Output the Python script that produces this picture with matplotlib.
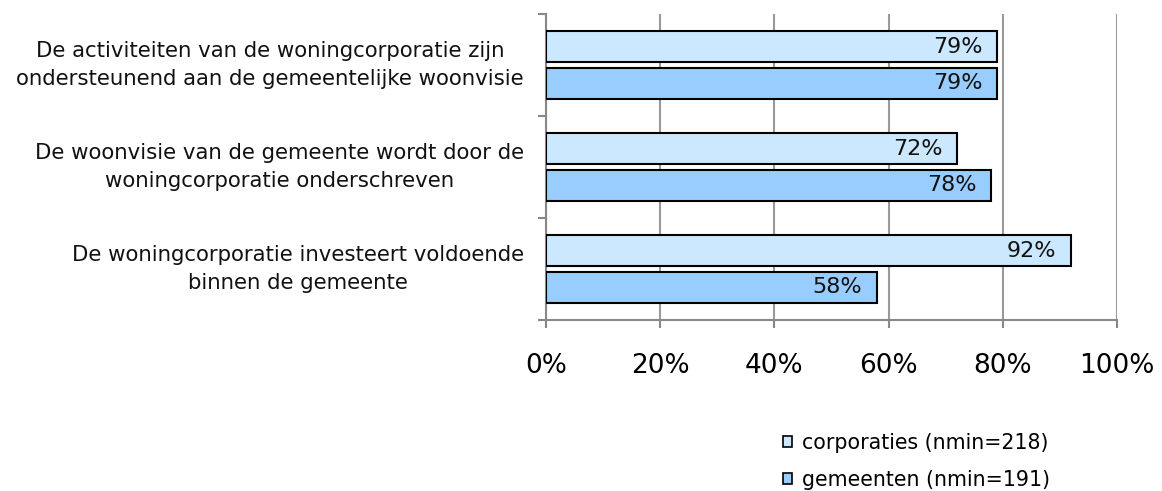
import matplotlib
matplotlib.use("Agg")
import matplotlib.pyplot as plt
import numpy as np

categories = [
    "De activiteiten van de woningcorporatie zijn\nondersteunend aan de gemeentelijke woonvisie",
    "De woonvisie van de gemeente wordt door de\nwoningcorporatie onderschreven",
    "De woningcorporatie investeert voldoende\nbinnen de gemeente",
]
corporaties = [79, 72, 92]
gemeenten = [79, 78, 58]
series_labels = ["corporaties (nmin=218)", "gemeenten (nmin=191)"]
xticks = [0, 20, 40, 60, 80, 100]

fig = plt.figure(figsize=(11.62, 4.91), dpi=100)
ax = fig.add_axes([546/1162, 1-320/491, (1117-546)/1162, (320-14)/491])

y = np.arange(len(categories))
h = 0.31
off = 0.18
c1, c2 = "#CCE8FF", "#99CCFF"
b1 = ax.barh(y - off, corporaties, height=h, color=c1, edgecolor="black", linewidth=1.5, zorder=3, label=series_labels[0])
b2 = ax.barh(y + off, gemeenten, height=h, color=c2, edgecolor="black", linewidth=1.5, zorder=3, label=series_labels[1])

for bars, vals in ((b1, corporaties), (b2, gemeenten)):
    for bar, v in zip(bars, vals):
        ax.text(v - 2.6, bar.get_y() + bar.get_height()/2, f"{v}%", ha="right", va="center",
                fontsize=16, color="#111111", zorder=4)

ax.set_xlim(0, 100)
ax.set_ylim(len(categories) - 0.5, -0.5)
ax.set_xticks(xticks)
ax.set_xticklabels([f"{t}%" for t in xticks], fontsize=19)
ax.set_yticks([-0.5, 0.5, 1.5, 2.5])
ax.set_yticklabels([])
for yi, cat in zip(y, categories):
    ax.annotate(cat, xy=(0, yi), xycoords=("axes fraction", "data"), xytext=(-22, 0),
                textcoords="offset pixels", ha="right", va="center", multialignment="center",
                fontsize=15.3, linespacing=1.45, color="#111111")
ax.tick_params(axis="y", which="major", length=6, color="#888888", width=1.5)
ax.tick_params(axis="x", length=6, color="#888888", width=1.5, pad=18)
ax.xaxis.grid(True, color="#999999", linewidth=1.5, zorder=0)
for s in ["top", "right"]:
    ax.spines[s].set_visible(False)
for s in ["left", "bottom"]:
    ax.spines[s].set_color("#888888")
    ax.spines[s].set_linewidth(1.5)

leg = fig.legend(handles=[b1, b2], labels=series_labels, loc="upper left",
                 bbox_to_anchor=(775/1162, 1-425/491), frameon=False, fontsize=14.8,
                 handlelength=0.45, handleheight=0.45, handletextpad=0.45, labelspacing=0.8,
                 borderaxespad=0)
for hnd in leg.legend_handles:
    hnd.set_linewidth(1.2)

fig.savefig("out.png", dpi=100)
